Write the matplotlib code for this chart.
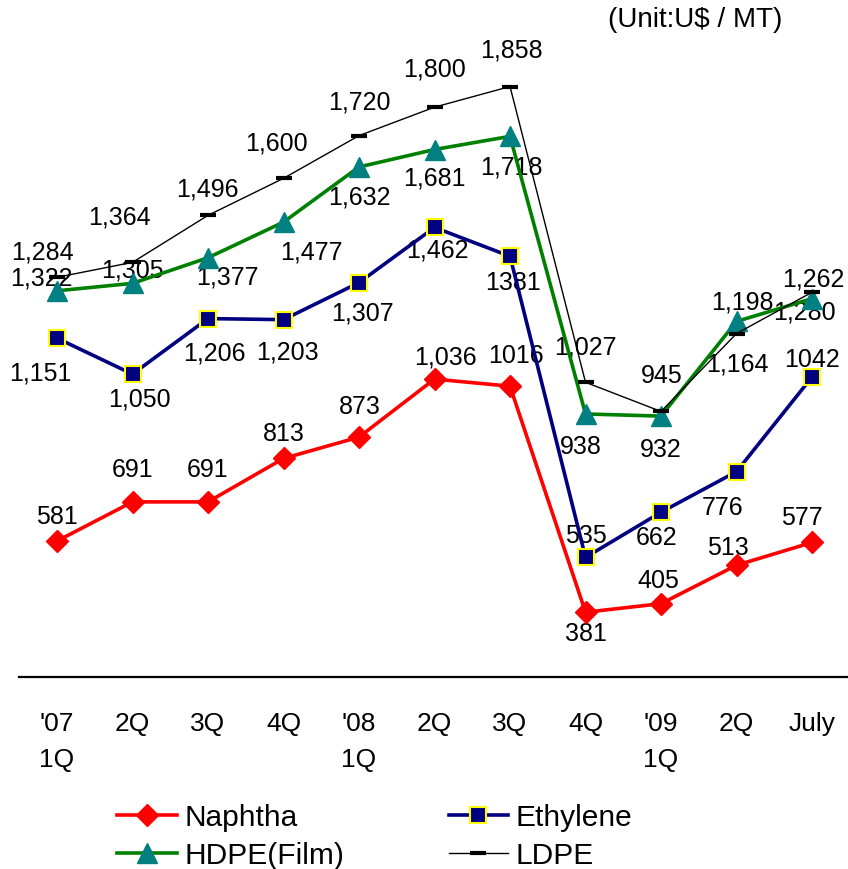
import matplotlib
matplotlib.use("Agg")
from matplotlib import pyplot as plt

plt.rcParams['font.family'] = ['Liberation Sans', 'DejaVu Sans']

# data
periods = ["'07\n1Q", "2Q", "3Q", "4Q", "'08\n1Q", "2Q", "3Q", "4Q", "'09\n1Q", "2Q", "July"]
naphtha = [581, 691, 691, 813, 873, 1036, 1016, 381, 405, 513, 577]
ethylene = [1151, 1050, 1206, 1203, 1307, 1462, 1381, 535, 662, 776, 1042]
hdpe = [1284, 1305, 1377, 1477, 1632, 1681, 1718, 938, 932, 1198, 1262]
ldpe = [1322, 1364, 1496, 1600, 1720, 1800, 1858, 1027, 945, 1164, 1280]

naphtha_labels = ["581", "691", "691", "813", "873", "1,036", "1016", "381", "405", "513", "577"]
ethylene_labels = ["1,151", "1,050", "1,206", "1,203", "1,307", "1,462", "1381", "535", "662", "776", "1042"]
hdpe_labels = ["1,284", "1,305", "1,377", "1,477", "1,632", "1,681", "1,718", "938", "932", "1,198", "1,262"]
ldpe_labels = ["1,322", "1,364", "1,496", "1,600", "1,720", "1,800", "1,858", "1,027", "945", "1,164", "1,280"]

# label offsets in pixels (dx, dy)
naphtha_off = [(0, 25), (0, 33), (0, 33), (0, 25), (1, 31), (11, 23), (6, 31), (0, -21), (-3, 24), (-9, 18), (-10, 25)]
ethylene_off = [(-17, -34), (7, -24), (6, -34), (4, -32), (3, -30), (3, -22), (3, -26), (0, 22), (-4, -25), (-14, -35), (0, 18)]
hdpe_off = [(-15, 39), (0, 14), (19, -19), (28, -29), (0, -30), (0, -28), (1, -30), (-5, -32), (0, -33), (6, 20), (1, 20)]
ldpe_off = [(-16, 0), (-13, 46), (-1, 27), (-7, 36), (0, 34), (0, 39), (1, 37), (0, 36), (1, 36), (1, -30), (-8, -19)]

fig = plt.figure(figsize=(8.48, 8.70), dpi=100)
ax = fig.add_axes([0.0227, 0.2211, 0.9794, 0.7364])

x = list(range(len(periods)))

l1, = ax.plot(x, naphtha, color="#FF0000", lw=2.6, marker="D", ms=11,
              mfc="#FF0000", mec="#FF0000", zorder=3, label="Naphtha")
l2, = ax.plot(x, ethylene, color="#000080", lw=2.6, marker="s", ms=12,
              mfc="#000080", mec="#FFFF00", mew=1.5, zorder=3, label="Ethylene")
l3, = ax.plot(x, hdpe, color="#008000", lw=2.6, marker="^", ms=15,
              mfc="#008080", mec="#008080", zorder=3, label="HDPE(Film)")
l4, = ax.plot(x, ldpe, color="black", lw=1.0, marker="_", ms=12, mew=3,
              zorder=4, label="LDPE")

for vals, labs, offs in [(naphtha, naphtha_labels, naphtha_off),
                         (ethylene, ethylene_labels, ethylene_off),
                         (hdpe, hdpe_labels, hdpe_off),
                         (ldpe, ldpe_labels, ldpe_off)]:
    for i, v in enumerate(vals):
        ax.annotate(labs[i], (i, v), xytext=offs[i], textcoords="offset pixels",
                    ha="center", va="center", fontsize=18, zorder=2)

ax.set_xlim(-0.5, 10.5)
ax.set_ylim(200, 2000)
ax.set_xticks(x)
ax.set_xticklabels(periods, fontsize=19, linespacing=1.6)
ax.tick_params(axis="x", length=0, pad=25)
ax.set_yticks([])
for s in ["left", "right", "top"]:
    ax.spines[s].set_visible(False)
ax.spines["bottom"].set_linewidth(1.6)

fig.text(782 / 848, 1 - 20 / 870, r"(Unit:U\$ / MT)", ha="right", va="center", fontsize=20)

fig.legend([l1, l3, l2, l4], ["Naphtha", "HDPE(Film)", "Ethylene", "LDPE"],
           ncol=2, frameon=False, fontsize=21.5, loc="upper left",
           bbox_to_anchor=(117 / 848, 1 - 804 / 870), borderaxespad=0, borderpad=0,
           handlelength=2.0, handletextpad=0.25, columnspacing=3.5, labelspacing=0.35)

fig.savefig("out.png", dpi=100)
